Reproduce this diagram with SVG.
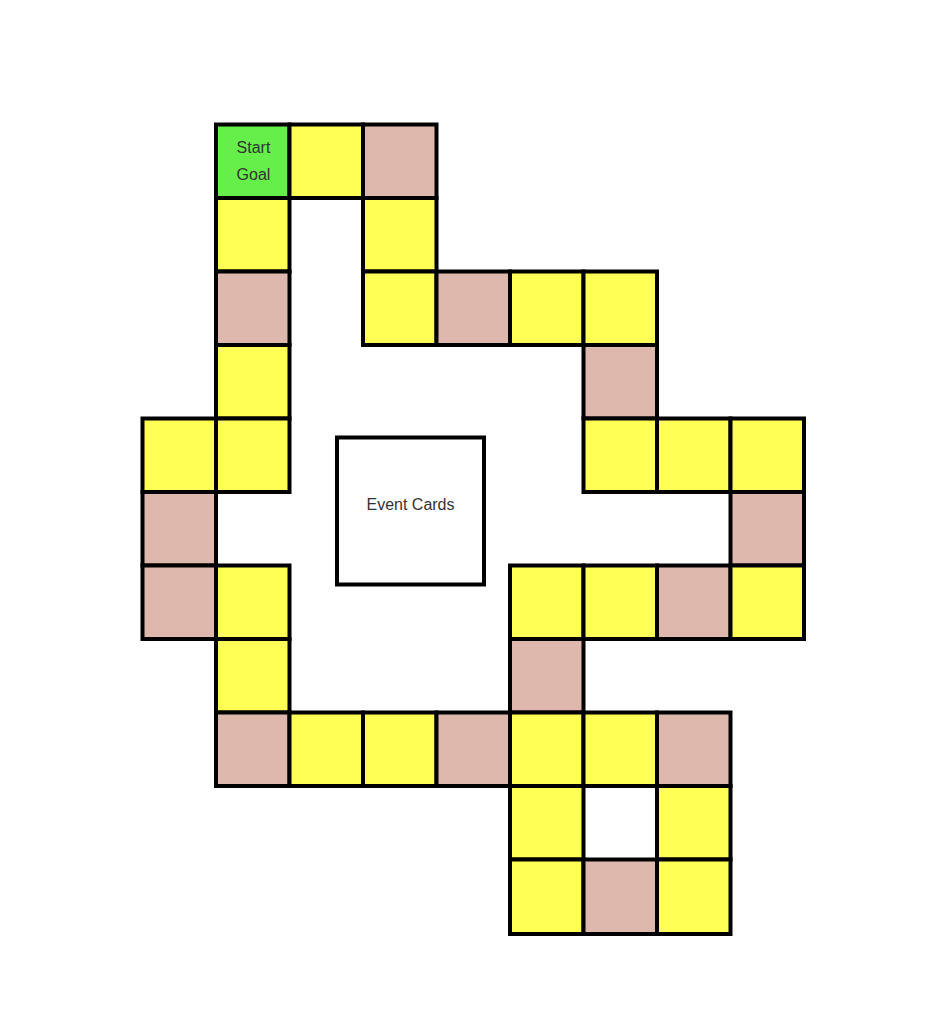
<svg xmlns="http://www.w3.org/2000/svg" width="948" height="1020" viewBox="0 0 948 1020">
<style>
.c{stroke:#000;stroke-width:4;}
.y{fill:#ffff55;}
.p{fill:#dfb8ad;}
.g{fill:#66ee4a;}
.w{fill:#fff;}
text{font-family:"Liberation Sans",Arial,sans-serif;font-size:16px;fill:#333;text-anchor:middle;}
</style>
<rect width="948" height="1020" fill="#fff"/>
<g id="cells">
<g id="start"><rect class="c g" x="216" y="124.5" width="73.5" height="73.5"/><text x="253.5" y="152.5">Start</text><text x="253.5" y="179.5">Goal</text></g>
<rect id="r0c2" class="c y" x="289.5" y="124.5" width="73.5" height="73.5"/>
<rect id="r0c3" class="c p" x="363" y="124.5" width="73.5" height="73.5"/>
<rect id="r1c1" class="c y" x="216" y="198" width="73.5" height="73.5"/>
<rect id="r1c3" class="c y" x="363" y="198" width="73.5" height="73.5"/>
<rect id="r2c1" class="c p" x="216" y="271.5" width="73.5" height="73.5"/>
<rect id="r2c3" class="c y" x="363" y="271.5" width="73.5" height="73.5"/>
<rect id="r2c4" class="c p" x="436.5" y="271.5" width="73.5" height="73.5"/>
<rect id="r2c5" class="c y" x="510" y="271.5" width="73.5" height="73.5"/>
<rect id="r2c6" class="c y" x="583.5" y="271.5" width="73.5" height="73.5"/>
<rect id="r3c1" class="c y" x="216" y="345" width="73.5" height="73.5"/>
<rect id="r3c6" class="c p" x="583.5" y="345" width="73.5" height="73.5"/>
<rect id="r4c0" class="c y" x="142.5" y="418.5" width="73.5" height="73.5"/>
<rect id="r4c1" class="c y" x="216" y="418.5" width="73.5" height="73.5"/>
<rect id="r4c6" class="c y" x="583.5" y="418.5" width="73.5" height="73.5"/>
<rect id="r4c7" class="c y" x="657" y="418.5" width="73.5" height="73.5"/>
<rect id="r4c8" class="c y" x="730.5" y="418.5" width="73.5" height="73.5"/>
<rect id="r5c0" class="c p" x="142.5" y="492" width="73.5" height="73.5"/>
<rect id="r5c8" class="c p" x="730.5" y="492" width="73.5" height="73.5"/>
<rect id="r6c0" class="c p" x="142.5" y="565.5" width="73.5" height="73.5"/>
<rect id="r6c1" class="c y" x="216" y="565.5" width="73.5" height="73.5"/>
<rect id="r6c5" class="c y" x="510" y="565.5" width="73.5" height="73.5"/>
<rect id="r6c6" class="c y" x="583.5" y="565.5" width="73.5" height="73.5"/>
<rect id="r6c7" class="c p" x="657" y="565.5" width="73.5" height="73.5"/>
<rect id="r6c8" class="c y" x="730.5" y="565.5" width="73.5" height="73.5"/>
<rect id="r7c1" class="c y" x="216" y="639" width="73.5" height="73.5"/>
<rect id="r7c5" class="c p" x="510" y="639" width="73.5" height="73.5"/>
<rect id="r8c1" class="c p" x="216" y="712.5" width="73.5" height="73.5"/>
<rect id="r8c2" class="c y" x="289.5" y="712.5" width="73.5" height="73.5"/>
<rect id="r8c3" class="c y" x="363" y="712.5" width="73.5" height="73.5"/>
<rect id="r8c4" class="c p" x="436.5" y="712.5" width="73.5" height="73.5"/>
<rect id="r8c5" class="c y" x="510" y="712.5" width="73.5" height="73.5"/>
<rect id="r8c6" class="c y" x="583.5" y="712.5" width="73.5" height="73.5"/>
<rect id="r8c7" class="c p" x="657" y="712.5" width="73.5" height="73.5"/>
<rect id="r9c5" class="c y" x="510" y="786" width="73.5" height="73.5"/>
<rect id="r9c7" class="c y" x="657" y="786" width="73.5" height="73.5"/>
<rect id="r10c5" class="c y" x="510" y="859.5" width="73.5" height="74.5"/>
<rect id="r10c6" class="c p" x="583.5" y="859.5" width="73.5" height="74.5"/>
<rect id="r10c7" class="c y" x="657" y="859.5" width="73.5" height="74.5"/>
</g>
<g id="event-cards"><rect class="c w" x="337" y="437.5" width="147" height="147"/><text x="410.5" y="509.5">Event Cards</text></g>
<g id="connectors"></g>
</svg>
